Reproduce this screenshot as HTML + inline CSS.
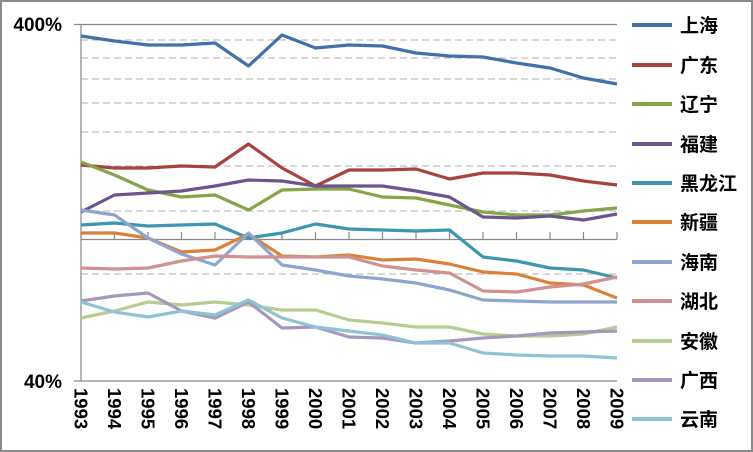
<!DOCTYPE html>
<html><head><meta charset="utf-8"><style>
html,body{margin:0;padding:0;background:#fff}
svg{display:block}
</style></head><body>
<svg width="753" height="452" viewBox="0 0 753 452" xmlns="http://www.w3.org/2000/svg" font-family="Liberation Sans, Noto Sans CJK SC, sans-serif">
<rect x="1" y="1" width="751" height="450" fill="#fff" stroke="#8a8a8a" stroke-width="2"/>
<g stroke="#b0b0b0" stroke-width="1" stroke-dasharray="7,4">
<line x1="81" y1="40" x2="617" y2="40"/><line x1="81" y1="58" x2="617" y2="58"/><line x1="81" y1="79" x2="617" y2="79"/>
<line x1="81" y1="103" x2="617" y2="103"/><line x1="81" y1="132" x2="617" y2="132"/><line x1="81" y1="166" x2="617" y2="166"/>
<line x1="81" y1="211" x2="617" y2="211"/><line x1="81" y1="274" x2="617" y2="274"/>
</g>
<g stroke="#888" stroke-width="1.2" fill="none">
<line x1="74" y1="24.5" x2="617" y2="24.5"/>
<line x1="74" y1="381" x2="617" y2="381"/>
<line x1="81" y1="24" x2="81" y2="381"/>
<line x1="81" y1="239.5" x2="617" y2="239.5"/>
<path d="M81 239v-7M114.5 239v-7M148 239v-7M181.5 239v-7M215 239v-7M248.5 239v-7M282 239v-7M315.5 239v-7M349 239v-7M382.5 239v-7M416 239v-7M449.5 239v-7M483 239v-7M516.5 239v-7M550 239v-7M583.5 239v-7M617 239v-7"/>
</g>
<g fill="none" stroke-width="3.2" stroke-linejoin="round">
<polyline stroke="#4270A8" points="81,36 114.5,41 148,45 181.5,45 215,43 248.5,66 282,35 315.5,48 349,45 382.5,46 416,53 449.5,56 483,57 516.5,63 550,68 583.5,78 617,84"/>
<polyline stroke="#A8423F" points="81,165 114.5,168 148,168 181.5,166 215,167 248.5,144 282,168 315.5,186 349,170 382.5,170 416,169 449.5,179 483,173 516.5,173 550,175 583.5,181 617,185"/>
<polyline stroke="#86A44A" points="81,162 114.5,175 148,190 181.5,197 215,195 248.5,210 282,190 315.5,189 349,189 382.5,197 416,198 449.5,205 483,212 516.5,215 550,215 583.5,211 617,208"/>
<polyline stroke="#6E548D" points="81,212 114.5,195 148,193 181.5,191 215,186 248.5,180 282,181 315.5,186 349,186 382.5,186 416,191 449.5,197 483,217 516.5,218 550,216 583.5,220 617,214"/>
<polyline stroke="#3D96AE" points="81,225 114.5,223 148,226 181.5,225 215,224 248.5,238 282,233 315.5,224 349,229 382.5,230 416,231 449.5,230 483,257 516.5,261 550,268 583.5,270 617,278"/>
<polyline stroke="#DA8137" points="81,233 114.5,233 148,238 181.5,252 215,250 248.5,234 282,256 315.5,257 349,255 382.5,260 416,259 449.5,264 483,272 516.5,274 550,283 583.5,285 617,298"/>
<polyline stroke="#8EA5CE" points="81,210 114.5,215 148,238 181.5,254 215,265 248.5,233 282,265 315.5,270 349,276 382.5,279 416,283 449.5,290 483,300 516.5,301 550,302 583.5,302 617,302"/>
<polyline stroke="#D09190" points="81,268 114.5,269 148,268 181.5,261 215,256 248.5,257 282,257 315.5,257 349,257 382.5,266 416,270 449.5,273 483,291 516.5,292 550,287 583.5,284 617,277"/>
<polyline stroke="#B7CC92" points="81,318 114.5,311 148,302 181.5,305 215,302 248.5,305 282,310 315.5,310 349,320 382.5,323 416,327 449.5,327 483,334 516.5,336 550,336 583.5,334 617,327"/>
<polyline stroke="#A697BC" points="81,301 114.5,296 148,293 181.5,311 215,318 248.5,302 282,328 315.5,327 349,337 382.5,338 416,343 449.5,341 483,338 516.5,336 550,333 583.5,332 617,331"/>
<polyline stroke="#8EC3D5" points="81,302 114.5,312 148,317 181.5,311 215,315 248.5,300 282,318 315.5,327 349,331 382.5,335 416,343 449.5,343 483,353 516.5,355 550,356 583.5,356 617,358"/>
</g>
<g font-size="19" font-weight="bold" fill="#000">
<text x="62" y="31" text-anchor="end">400%</text>
<text x="62" y="388" text-anchor="end">40%</text>
</g>
<g font-size="18.5" font-weight="bold" fill="#000">
<text transform="translate(74.5,388) rotate(90)">1993</text>
<text transform="translate(108,388) rotate(90)">1994</text>
<text transform="translate(141.5,388) rotate(90)">1995</text>
<text transform="translate(175,388) rotate(90)">1996</text>
<text transform="translate(208.5,388) rotate(90)">1997</text>
<text transform="translate(242,388) rotate(90)">1998</text>
<text transform="translate(275.5,388) rotate(90)">1999</text>
<text transform="translate(309,388) rotate(90)">2000</text>
<text transform="translate(342.5,388) rotate(90)">2001</text>
<text transform="translate(376,388) rotate(90)">2002</text>
<text transform="translate(409.5,388) rotate(90)">2003</text>
<text transform="translate(443,388) rotate(90)">2004</text>
<text transform="translate(476.5,388) rotate(90)">2005</text>
<text transform="translate(510,388) rotate(90)">2006</text>
<text transform="translate(543.5,388) rotate(90)">2007</text>
<text transform="translate(577,388) rotate(90)">2008</text>
<text transform="translate(610.5,388) rotate(90)">2009</text>
</g>
<g stroke-width="4">
<line x1="632" y1="25" x2="672" y2="25" stroke="#4270A8"/>
<line x1="632" y1="65" x2="672" y2="65" stroke="#A8423F"/>
<line x1="632" y1="104" x2="672" y2="104" stroke="#86A44A"/>
<line x1="632" y1="144" x2="672" y2="144" stroke="#6E548D"/>
<line x1="632" y1="183" x2="672" y2="183" stroke="#3D96AE"/>
<line x1="632" y1="222" x2="672" y2="222" stroke="#DA8137"/>
<line x1="632" y1="262" x2="672" y2="262" stroke="#8EA5CE"/>
<line x1="632" y1="301" x2="672" y2="301" stroke="#D09190"/>
<line x1="632" y1="341" x2="672" y2="341" stroke="#B7CC92"/>
<line x1="632" y1="380" x2="672" y2="380" stroke="#A697BC"/>
<line x1="632" y1="419" x2="672" y2="419" stroke="#8EC3D5"/>
</g>
<g font-size="19" font-weight="bold" fill="#000">
<text x="680" y="32">上海</text>
<text x="680" y="72">广东</text>
<text x="680" y="111">辽宁</text>
<text x="680" y="151">福建</text>
<text x="680" y="190">黑龙江</text>
<text x="680" y="229">新疆</text>
<text x="680" y="269">海南</text>
<text x="680" y="308">湖北</text>
<text x="680" y="348">安徽</text>
<text x="680" y="387">广西</text>
<text x="680" y="426">云南</text>
</g>
</svg>
</body></html>
